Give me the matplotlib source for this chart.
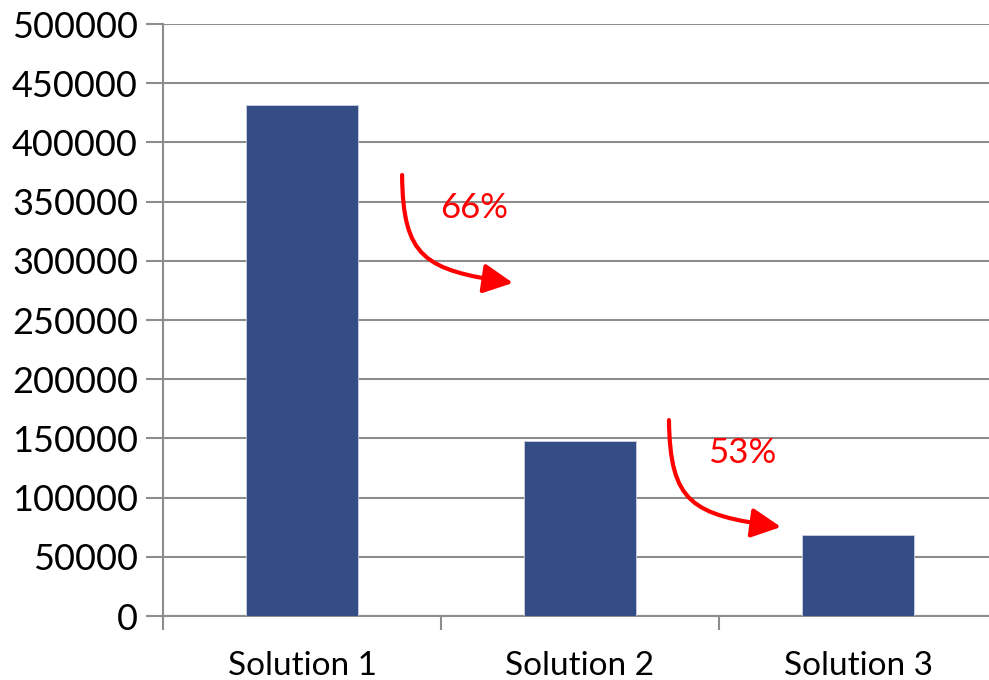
import matplotlib.pyplot as plt
from matplotlib.patches import FancyArrowPatch
from matplotlib.path import Path

categories = ["Solution 1", "Solution 2", "Solution 3"]
values = [432000, 148000, 68000]
y_ticks = [0, 50000, 100000, 150000, 200000, 250000, 300000, 350000, 400000, 450000, 500000]
reductions = ["66%", "53%"]

plt.rcParams['font.family'] = ['Lato', 'DejaVu Sans']

fig = plt.figure(figsize=(9.89, 6.8), dpi=100)
ax = fig.add_axes([163 / 989, 1 - 616 / 680, 834 / 989, 592 / 680])

grid_color = "#8c8c8c"
x = list(range(len(categories)))
ax.bar(x, values, width=0.4, color="#344d84", edgecolor="#c8d0e0", linewidth=0.6, zorder=3)

ax.set_xlim(-0.5, len(categories) - 0.5)
ax.set_ylim(0, 500000)
ax.set_yticks(y_ticks)
ax.set_yticklabels([str(v) for v in y_ticks], fontsize=26)
ax.yaxis.grid(True, color=grid_color, linewidth=1.5, zorder=0)
ax.tick_params(axis='y', length=12, width=1.5, color=grid_color, pad=6)

# category labels centred, ticks at category boundaries
ax.set_xticks([i - 0.5 for i in range(len(categories) + 1)])
ax.set_xticklabels([])
ax.set_xticks(x, minor=True)
ax.set_xticklabels(categories, minor=True, fontsize=24)
ax.tick_params(axis='x', which='major', length=10, width=1.5, color=grid_color)
ax.tick_params(axis='x', which='minor', length=0, pad=25)

for s in ["top", "right"]:
    ax.spines[s].set_visible(False)
for s in ["left", "bottom"]:
    ax.spines[s].set_color(grid_color)
    ax.spines[s].set_linewidth(1.5)

# curved reduction arrows between bars: (start, ctrl1, ctrl2, end, label position)
arrows = [
    ((0.360, 372500), (0.363, 302400), (0.442, 292200), (0.759, 281300), (0.619, 344600)),
    ((1.320, 165500), (1.324, 95400), (1.403, 85300), (1.723, 75200), (1.583, 137700)),
]
for (start, c1, c2, end, txt), label in zip(arrows, reductions):
    path = Path([start, c1, c2, end], [Path.MOVETO, Path.CURVE4, Path.CURVE4, Path.CURVE4])
    arr = FancyArrowPatch(path=path, arrowstyle="-|>,head_length=0.9,head_width=0.45",
                          mutation_scale=20, color="red", linewidth=3, zorder=5)
    ax.add_patch(arr)
    ax.text(txt[0], txt[1], label, color="red", fontsize=25, zorder=5,
            ha="center", va="center")

fig.savefig("out.png", dpi=100)
